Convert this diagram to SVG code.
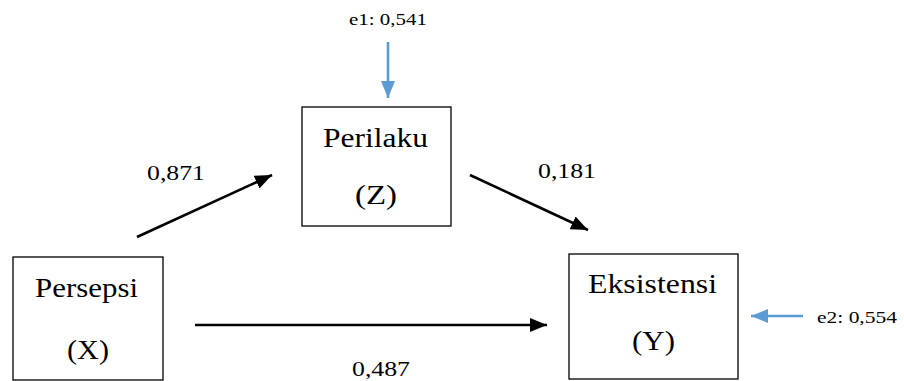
<svg xmlns="http://www.w3.org/2000/svg" width="904" height="381" viewBox="0 0 904 381">
<style>
.box{fill:#fff;stroke:#000;stroke-width:1.3}
.t{font-family:"Liberation Serif","Times New Roman",serif;fill:#000;text-anchor:start}
.big{font-size:28px}
.lbl{font-size:22px}
.err{font-size:16.5px}
.c{stroke:#000;stroke-width:2.6;fill:none}
.b{stroke:#5b9bd5;stroke-width:2.6;fill:none}
</style>
<defs>
<marker id="ah" markerUnits="userSpaceOnUse" markerWidth="18" markerHeight="14" refX="17" refY="7" orient="auto">
<path d="M0,0 L17,7 L0,14 Z" fill="#000"/>
</marker>
<marker id="ahb" markerUnits="userSpaceOnUse" markerWidth="18" markerHeight="14" refX="17" refY="7" orient="auto">
<path d="M0,0 L17,7 L0,14 Z" fill="#5b9bd5"/>
</marker>
</defs>
<g id="connectors">
<line class="c" x1="137" y1="237" x2="272" y2="175" marker-end="url(#ah)"/>
<line class="c" x1="470" y1="175" x2="588" y2="230" marker-end="url(#ah)"/>
<line class="c" x1="195" y1="325" x2="547" y2="325" marker-end="url(#ah)"/>
<line class="b" x1="388" y1="42" x2="388" y2="98" marker-end="url(#ahb)"/>
<line class="b" x1="803" y1="316" x2="751" y2="316" marker-end="url(#ahb)"/>
<text class="t lbl" x="147" y="180" textLength="58" lengthAdjust="spacingAndGlyphs">0,871</text>
<text class="t lbl" x="538" y="178" textLength="58" lengthAdjust="spacingAndGlyphs">0,181</text>
<text class="t lbl" x="352" y="376" textLength="58" lengthAdjust="spacingAndGlyphs">0,487</text>
<text class="t err" x="349" y="25" textLength="78" lengthAdjust="spacingAndGlyphs">e1: 0,541</text>
<text class="t err" x="817" y="323" textLength="80" lengthAdjust="spacingAndGlyphs">e2: 0,554</text>
</g>
<g id="nodeX">
<rect class="box" x="13" y="257" width="150" height="123"/>
<text class="t big" x="35" y="297" textLength="103" lengthAdjust="spacingAndGlyphs">Persepsi</text>
<text class="t big" x="67" y="359" textLength="42" lengthAdjust="spacingAndGlyphs">(X)</text>
</g>
<g id="nodeZ">
<rect class="box" x="302" y="107" width="149" height="119"/>
<text class="t big" x="323" y="147" textLength="105" lengthAdjust="spacingAndGlyphs">Perilaku</text>
<text class="t big" x="355" y="204" textLength="42" lengthAdjust="spacingAndGlyphs">(Z)</text>
</g>
<g id="nodeY">
<rect class="box" x="569" y="254" width="169" height="125"/>
<text class="t big" x="588" y="293" textLength="129" lengthAdjust="spacingAndGlyphs">Eksistensi</text>
<text class="t big" x="632" y="350" textLength="43" lengthAdjust="spacingAndGlyphs">(Y)</text>
</g>
</svg>
